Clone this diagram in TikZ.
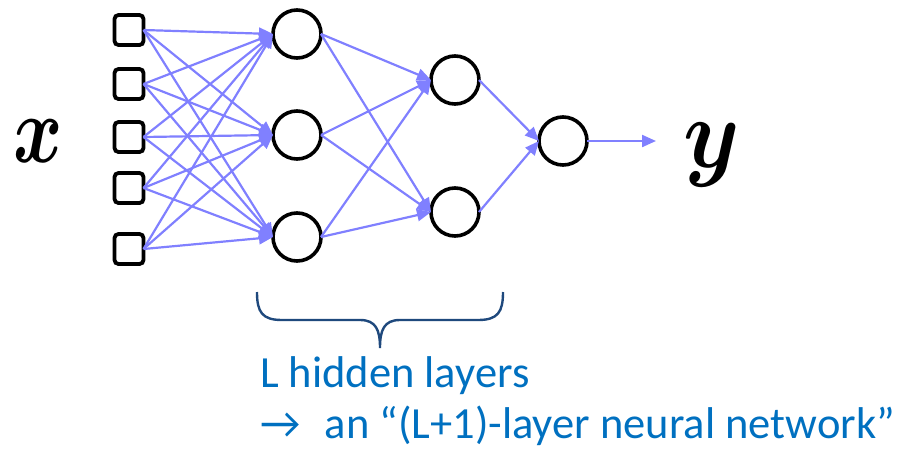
\documentclass[tikz,border=0pt]{standalone}
\usepackage{amsmath}
\usepackage{bm}
\usepackage{fontspec}
\newfontfamily\labelfont{Carlito}
\usetikzlibrary{arrows.meta}
\definecolor{edgeblue}{RGB}{128,128,255}
\definecolor{bracecol}{RGB}{31,73,125}
\definecolor{textblue}{RGB}{0,112,192}
\tikzset{
  inputbox/.style={draw=black, line width=3.8pt, rounded corners=4pt,
    minimum width=29pt, minimum height=30pt, inner sep=0pt, outer sep=0pt},
  unit/.style={draw=black, circle, line width=3.6pt, minimum size=48pt,
    inner sep=0pt, outer sep=0pt},
  link/.style={draw=edgeblue, line width=2.2pt,
    -{Triangle[length=14pt,width=12pt]}},
  varlabel/.style={inner sep=0pt},
  caption/.style={inner sep=0pt, text=textblue, anchor=base west,
    font=\labelfont\fontsize{44.5}{44.5}\selectfont}
}
\begin{document}
\begin{tikzpicture}[x=1pt,y=-1pt]
  \useasboundingbox (0,0) rectangle (903,448);

  % input layer
  \node[inputbox] (i1) at (129,30) {};
  \node[inputbox] (i2) at (129,84) {};
  \node[inputbox] (i3) at (129,137) {};
  \node[inputbox] (i4) at (129,188) {};
  \node[inputbox] (i5) at (129,249) {};

  % first hidden layer
  \node[unit] (h1) at (297,34) {};
  \node[unit] (h2) at (297,135) {};
  \node[unit] (h3) at (297,237) {};

  % second hidden layer
  \node[unit] (g1) at (455,80) {};
  \node[unit] (g2) at (455,212) {};

  % output unit
  \node[unit] (o) at (563,141) {};
  \coordinate (yend) at (656,141);

  % connections
  \foreach \i in {1,...,5}
    \foreach \h in {1,2,3}
      \draw[link] (i\i.east) -- (h\h.west);
  \foreach \h in {1,2,3}
    \foreach \g in {1,2}
      \draw[link] (h\h.east) -- (g\g.west);
  \foreach \g in {1,2}
    \draw[link] (g\g.east) -- (o.west);
  \draw[link] (o.east) -- (yend);

  % variable labels
  \node[varlabel] (xlab) at (38,141) {\scalebox{7.5}[9.6]{$\bm{x}$}};
  \node[varlabel] (ylab) at (712,155) {\scalebox{9}[10]{$\bm{y}$}};

  % brace under the hidden layers
  \draw[bracecol, line width=2.4pt]
    (257,292) .. controls (257,312) and (262,320) .. (282,320)
    -- (360,320) .. controls (376,320) and (380,330) .. (380,348)
    .. controls (380,330) and (384,320) .. (400,320)
    -- (478,320) .. controls (498,320) and (503,312) .. (503,292);

  % caption
  \node[caption] (cap1) at (260,387) {L hidden layers};
  \node[caption] (cap2) at (260,438) {→\hspace{0.55em}an “(L+1)-layer neural network”};
\end{tikzpicture}
\end{document}
